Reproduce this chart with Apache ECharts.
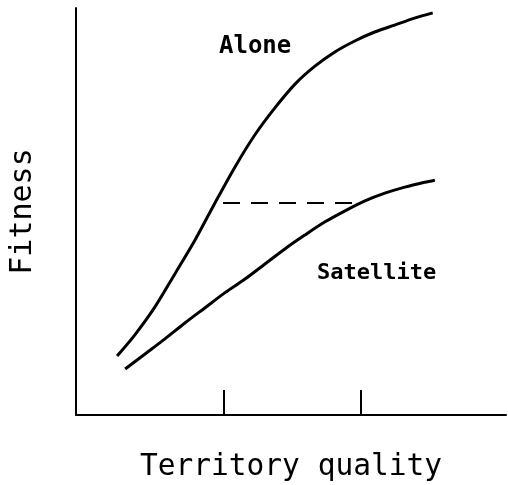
<!DOCTYPE html>
<html>
<head>
<meta charset="utf-8">
<script src="https://cdn.jsdelivr.net/npm/echarts@6/dist/echarts.min.js"></script>
<style>
html,body{margin:0;padding:0;background:#fff;}
#chart{width:508px;height:485px;}
</style>
</head>
<body>
<div id="chart"></div>
<script>
// Data (arbitrary units: territory quality 0-100, fitness 0-100)
var aloneX = [9.7, 13.9, 18.6, 23.3, 28.1, 32.8, 37.5, 42.2, 46.9, 51.7, 56.4, 61.1, 65.8, 70.5, 75.2, 79.9, 84.2];
var aloneY = [14.5, 19.7, 26.5, 34.6, 43.0, 52.1, 60.9, 68.8, 75.4, 81.3, 85.7, 89.2, 91.9, 94.1, 95.8, 97.5, 98.8];
var satelliteX = [11.6, 16.3, 21.0, 25.7, 30.4, 35.1, 39.9, 44.6, 49.3, 54.0, 58.7, 63.4, 68.2, 72.9, 77.6, 82.3, 84.7];
var satelliteY = [11.3, 15.0, 18.7, 22.6, 26.3, 30.0, 33.4, 37.1, 40.8, 44.2, 47.4, 50.1, 52.6, 54.5, 56.0, 57.2, 57.7];
var dashX = [34.7, 65.6];
var dashY = [52.1, 52.1];
var tickValues = [34.9, 67.2];
var xTitle = 'Territory quality';
var yTitle = 'Fitness';
var labelAlone = 'Alone';
var labelSatellite = 'Satellite';

function zip(xs, ys) { return xs.map(function (x, i) { return [x, ys[i]]; }); }

var chart = echarts.init(document.getElementById('chart'), null, {renderer: 'canvas'});
var mono = 'DejaVu Sans Mono';
chart.setOption({
  animation: false,
  backgroundColor: '#fff',
  grid: {left: 76, top: 8, right: 2, bottom: 70, outerBoundsMode: 'none', containLabel: false},
  xAxis: {
    type: 'value', min: 0, max: 101.5,
    name: xTitle, nameLocation: 'middle', nameGap: 37,
    nameTextStyle: {fontFamily: mono, fontSize: 29.5, color: '#000'},
    axisLine: {show: true, lineStyle: {color: '#000', width: 2}},
    axisTick: {show: true, inside: true, length: 25, customValues: tickValues, lineStyle: {color: '#000', width: 2}},
    axisLabel: {show: false},
    splitLine: {show: false}
  },
  yAxis: {
    type: 'value', min: 0, max: 100,
    name: yTitle, nameLocation: 'middle', nameGap: 38, nameRotate: 90,
    nameTextStyle: {fontFamily: mono, fontSize: 30, color: '#000'},
    axisLine: {show: true, lineStyle: {color: '#000', width: 2}},
    axisTick: {show: false},
    axisLabel: {show: false},
    splitLine: {show: false}
  },
  series: [
    {type: 'line', data: zip(aloneX, aloneY), smooth: 0.3, symbol: 'none',
     lineStyle: {color: '#000', width: 3}},
    {type: 'line', data: zip(satelliteX, satelliteY), smooth: 0.3, symbol: 'none',
     lineStyle: {color: '#000', width: 3}},
    {type: 'line', data: zip(dashX, dashY), symbol: 'none',
     lineStyle: {color: '#000', width: 2, type: [17, 11]}}
  ],
  graphic: [
    {type: 'text', left: 219, top: 35, style: {text: labelAlone, fontFamily: mono, fontWeight: 'bold', fontSize: 24, fill: '#000'}},
    {type: 'text', left: 317, top: 262, style: {text: labelSatellite, fontFamily: mono, fontWeight: 'bold', fontSize: 22, fill: '#000'}}
  ]
});
</script>
</body>
</html>
